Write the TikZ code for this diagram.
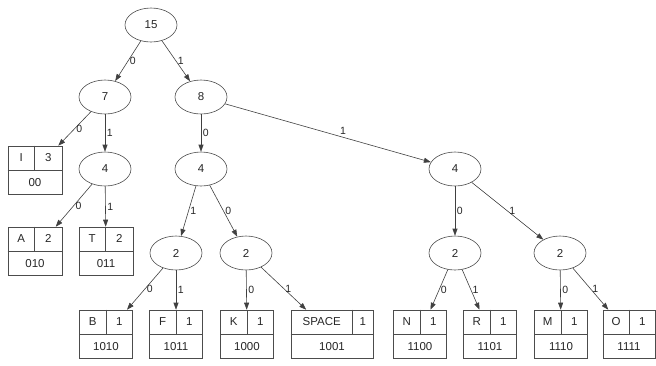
\documentclass[tikz,border=0pt]{standalone}
\usepackage{fontspec}
\setmainfont{Liberation Sans}
\usetikzlibrary{shapes.geometric, arrows.meta}

% record node: name, x, y, width, cut, symbol, count, code
\newcommand{\leaf}[8]{%
  \node[leaf, minimum width=#4] (#1) at (#2,#3) {};
  \draw[rule] (#1.west) -- (#1.east);
  \draw[rule] ([xshift=#5]#1.north west) -- ([xshift=#5]#1.west);
  \node (#1-sym) at ([xshift=#5/2, yshift=-12]#1.north west) {#6};
  \node (#1-cnt) at ([xshift=(#4+#5)/2, yshift=-12]#1.north west) {#7};
  \node (#1-code) at ([yshift=12]#1.south) {#8};
}

\begin{document}
\begin{tikzpicture}[x=1pt, y=-1pt,
    font=\fontsize{11.5}{13}\selectfont, text=black!85,
    sum/.style={ellipse, draw=black!70, line width=0.6pt, minimum width=52pt, minimum height=34pt, inner sep=0pt},
    leaf/.style={rectangle, draw=black!70, line width=0.6pt, minimum height=48pt, inner sep=0pt},
    rule/.style={draw=black!70, line width=0.6pt},
    edge/.style={draw=black!75, line width=0.6pt, -{Triangle[length=7pt, width=5pt]}},
    bit/.style={right, inner sep=1.5pt, font=\fontsize{10.5}{12}\selectfont}]
  \useasboundingbox (0,0) rectangle (656,365);

  % inner nodes
  \node[sum] (n15) at (151,25) {15};
  \node[sum] (n7) at (105,97) {7};
  \node[sum] (n8) at (201,97) {8};
  \node[sum] (n4a) at (105,169) {4};
  \node[sum] (n4b) at (201,169) {4};
  \node[sum] (n4c) at (455,169) {4};
  \node[sum] (n2a) at (176,253) {2};
  \node[sum] (n2b) at (246,253) {2};
  \node[sum] (n2c) at (455,253) {2};
  \node[sum] (n2d) at (560,253) {2};

  % leaves
  \leaf{lI}{35}{170}{54}{27}{I}{3}{00}
  \leaf{lA}{35}{251}{54}{27}{A}{2}{010}
  \leaf{lT}{106}{251}{54}{27}{T}{2}{011}
  \leaf{lB}{106}{334}{53}{27}{B}{1}{1010}
  \leaf{lF}{176}{334}{53}{27}{F}{1}{1011}
  \leaf{lK}{247}{334}{53}{27}{K}{1}{1000}
  \leaf{lSp}{332}{334}{82}{62}{SPACE}{1}{1001}
  \leaf{lN}{420}{334}{53}{27}{N}{1}{1100}
  \leaf{lR}{490}{334}{53}{27}{R}{1}{1101}
  \leaf{lM}{561}{334}{53}{27}{M}{1}{1110}
  \leaf{lO}{629}{334}{52}{27}{O}{1}{1111}

  % edges
  \draw[edge] (n15) -- node[bit] {0} (n7);
  \draw[edge] (n15) -- node[bit] {1} (n8);
  \draw[edge] (n7) -- node[bit] {0} (lI);
  \draw[edge] (n7) -- node[bit] {1} (n4a);
  \draw[edge] (n8) -- node[bit] {0} (n4b);
  \draw[edge] (n8) -- node[bit, above right, pos=.55] {1} (n4c);
  \draw[edge] (n4a) -- node[bit] {0} (lA);
  \draw[edge] (n4a) -- node[bit] {1} (lT);
  \draw[edge] (n4b) -- node[bit] {1} (n2a);
  \draw[edge] (n4b) -- node[bit] {0} (n2b);
  \draw[edge] (n4c) -- node[bit] {0} (n2c);
  \draw[edge] (n4c) -- node[bit] {1} (n2d);
  \draw[edge] (n2a) -- node[bit] {0} (lB);
  \draw[edge] (n2a) -- node[bit] {1} (lF);
  \draw[edge] (n2b) -- node[bit] {0} (lK);
  \draw[edge] (n2b) -- node[bit] {1} (lSp);
  \draw[edge] (n2c) -- node[bit] {0} (lN);
  \draw[edge] (n2c) -- node[bit] {1} (lR);
  \draw[edge] (n2d) -- node[bit] {0} (lM);
  \draw[edge] (n2d) -- node[bit] {1} (lO);
\end{tikzpicture}
\end{document}
